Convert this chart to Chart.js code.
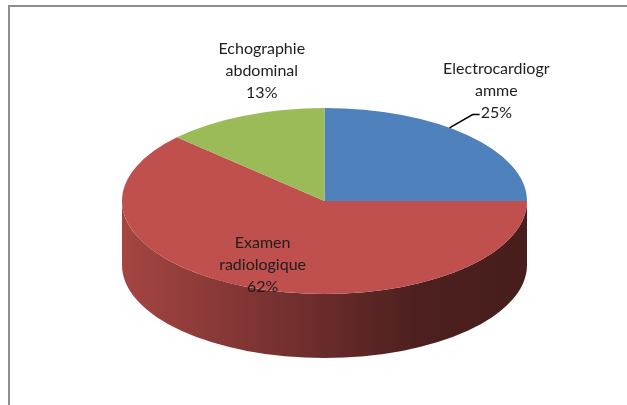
<!DOCTYPE html>
<html>
<head>
<meta charset="utf-8">
<script src="https://cdn.jsdelivr.net/npm/chart.js@4"></script>
<style>
  body { margin: 0; background: #fff; }
  canvas { display: block; }
</style>
</head>
<body>
<canvas id="pie" width="627" height="405"></canvas>
<script>
// data
const categories = ['Electrocardiogramme', 'Examen radiologique', 'Echographie abdominal'];
const values = [25, 62, 13];
const labelLines = [['Electrocardiogr', 'amme'], ['Examen', 'radiologique'], ['Echographie', 'abdominal']];
const sliceColors = ['#4F81BD', '#C0504D', '#9BBB59'];

function shade(hex, f) {
  const n = parseInt(hex.slice(1), 16);
  const r = Math.round(((n >> 16) & 255) * f);
  const g = Math.round(((n >> 8) & 255) * f);
  const b = Math.round((n & 255) * f);
  return 'rgb(' + r + ',' + g + ',' + b + ')';
}

// squashes the pie into an ellipse and adds the side wall
const pie3d = {
  id: 'pie3d',
  beforeDraw(chart) {
    const ctx = chart.ctx;
    ctx.save();
    ctx.strokeStyle = '#8e8e8e';
    ctx.lineWidth = 2;
    ctx.beginPath();
    ctx.moveTo(9, 405);
    ctx.lineTo(9, 6);
    ctx.lineTo(627, 6);
    ctx.stroke();
    ctx.restore();
  },
  beforeDatasetsDraw(chart, args, opts) {
    const ctx = chart.ctx;
    const arcs = chart.getDatasetMeta(0).data;
    const cx = arcs[0].x, cy = arcs[0].y, r = arcs[0].outerRadius;
    const ry = opts.ry, cyT = opts.cy, depth = opts.depth;
    arcs.forEach((arc, i) => {
      const base = sliceColors[i];
      [-2 * Math.PI, 0, 2 * Math.PI].forEach(off => {
        const a = Math.max(arc.startAngle + off, 0);
        const b = Math.min(arc.endAngle + off, Math.PI);
        if (b <= a) return;
        const grad = ctx.createLinearGradient(cx - r, 0, cx + r, 0);
        grad.addColorStop(0, shade(base, 0.86));
        grad.addColorStop(0.45, shade(base, 0.58));
        grad.addColorStop(0.72, shade(base, 0.4));
        grad.addColorStop(1, shade(base, 0.37));
        ctx.beginPath();
        ctx.ellipse(cx, cyT, r, ry, 0, a, b);
        ctx.ellipse(cx, cyT + depth, r, ry, 0, b, a, true);
        ctx.closePath();
        ctx.fillStyle = grad;
        ctx.fill();
      });
    });
    ctx.save();
    ctx.translate(0, cyT);
    ctx.scale(1, ry / r);
    ctx.translate(0, -cy);
  },
  afterDatasetsDraw(chart, args, opts) {
    const ctx = chart.ctx;
    ctx.restore();
    const arcs = chart.getDatasetMeta(0).data;
    const cx = arcs[0].x, r = arcs[0].outerRadius;
    const ry = opts.ry, cyT = opts.cy;
    const total = values.reduce((s, v) => s + v, 0);
    ctx.save();
    ctx.font = '16px Lato';
    ctx.fillStyle = '#1e1e1e';
    ctx.textAlign = 'center';
    ctx.textBaseline = 'middle';
    arcs.forEach((arc, i) => {
      const mid = (arc.startAngle + arc.endAngle) / 2;
      const k = opts.place[i];
      const lx = cx + r * k[0] * Math.cos(mid);
      const ly = cyT + ry * k[1] * Math.sin(mid);
      const lines = labelLines[i].concat([Math.round(values[i] / total * 100) + '%']);
      const lh = 22;
      const top = ly - lh * (lines.length - 1) / 2;
      lines.forEach((t, j) => ctx.fillText(t, lx, top + j * lh));
      if (k[2] !== undefined) {
        // leader line from the rim to the last label line
        const t = mid + k[2];
        const px = cx + r * Math.cos(t), py = cyT + ry * Math.sin(t);
        const last = lines[lines.length - 1];
        const tx = lx - ctx.measureText(last).width / 2;
        const ty = top + (lines.length - 1) * lh + 2;
        ctx.strokeStyle = '#000';
        ctx.lineWidth = 1.5;
        ctx.beginPath();
        ctx.moveTo(px, py);
        ctx.lineTo(tx - 8, ty);
        ctx.lineTo(tx - 1, ty);
        ctx.stroke();
      }
    });
    ctx.restore();
  }
};

new Chart(document.getElementById('pie'), {
  type: 'pie',
  data: {
    labels: categories,
    datasets: [{
      data: values,
      backgroundColor: sliceColors,
      borderWidth: 0
    }]
  },
  options: {
    responsive: false,
    animation: false,
    events: [],
    devicePixelRatio: 1,
    layout: { padding: { left: 122, right: 100, top: 0, bottom: 0 } },
    plugins: {
      legend: { display: false },
      tooltip: { enabled: false },
      pie3d: { cy: 201, ry: 93, depth: 64, place: [[1.2, 1.68, -0.12], [0.83, 0.74], [0.78, 1.52]] }
    }
  },
  plugins: [pie3d]
});
</script>
</body>
</html>
